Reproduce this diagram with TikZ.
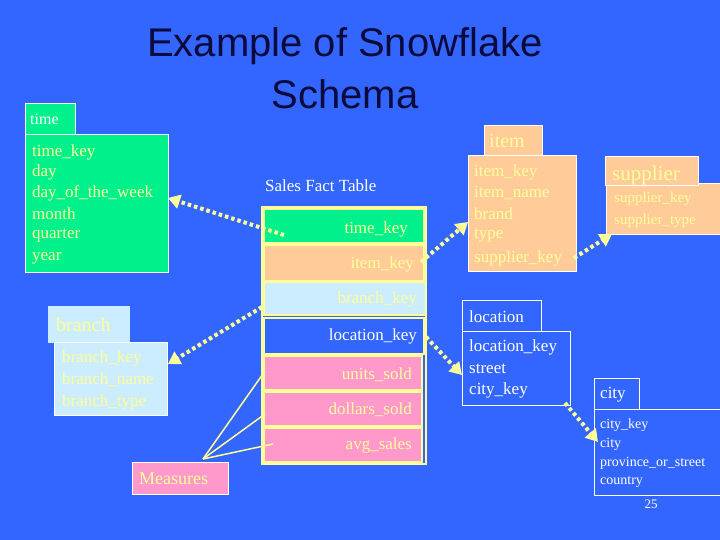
\documentclass[tikz,border=0pt]{standalone}
\usepackage{fontspec}
\setmainfont{Liberation Serif}
\newfontfamily\arial{Liberation Sans}
\usetikzlibrary{arrows.meta}
\definecolor{bg}{RGB}{51,102,255}
\definecolor{grn}{RGB}{0,240,140}
\definecolor{pch}{RGB}{255,204,153}
\definecolor{lbl}{RGB}{204,236,255}
\definecolor{pnk}{RGB}{255,153,204}
\definecolor{crm}{RGB}{255,255,153}
\definecolor{navy}{RGB}{10,10,60}
\tikzset{
 bx/.style={draw=white,line width=0.8pt,inner sep=0pt},
 txt/.style={anchor=west,inner sep=0pt,font=\fontsize{17}{17}\selectfont},
 rowtxt/.style={anchor=east,inner sep=0pt,font=\fontsize{17}{17}\selectfont},
 link/.style={draw=crm,line width=4pt,dash pattern=on 3.5pt off 3pt,-{Triangle[length=12pt,width=14pt]}},
 meas/.style={draw=crm,line width=1.5pt}
}
\begin{document}
\begin{tikzpicture}[x=1pt,y=-1pt]
\fill[bg] (0,0) rectangle (720,540);
\useasboundingbox (0,0) rectangle (720,540);
% title
\node[font=\arial\fontsize{40}{52}\selectfont,align=center,text=navy] (title) at (345,68) {Example of Snowflake\\Schema};
% time
\draw[bx,fill=grn] (25,103) rectangle (75,134);
\node[txt,text=white,font=\fontsize{16}{16}\selectfont] (timelbl) at (30,119) {time};
\draw[bx,fill=grn] (25,134) rectangle (168,272);
\node[txt,text=crm] at (32,152) {time\_key};
\node[txt,text=crm] at (32,172) {day};
\node[txt,text=crm] (dow) at (32,193) {day\_of\_the\_week};
\node[txt,text=crm] at (32,214) {month};
\node[txt,text=crm] at (32,236) {quarter};
\node[txt,text=crm] at (32,258) {year};
\coordinate (timeE) at (168,198);
% sales fact
\node[txt,text=white] (sft) at (265,186) {Sales Fact Table};
\draw[draw=crm,line width=1.2pt] (262,207) rectangle (426,464);
\draw[fill=grn,draw=crm,line width=1.2pt] (264,209) rectangle (424,243);
\draw[fill=pch,draw=crm,line width=1.2pt] (264,245) rectangle (424,281);
\draw[fill=lbl,draw=crm,line width=1.2pt] (264,282) rectangle (426,315);
\draw[fill=bg,draw=crm,line width=1.2pt] (264,318) rectangle (424,354);
\draw[fill=pnk,draw=crm,line width=1.2pt] (264,356) rectangle (422,390);
\draw[fill=pnk,draw=crm,line width=1.2pt] (264,392) rectangle (422,426);
\draw[fill=pnk,draw=crm,line width=1.2pt] (264,428) rectangle (422,462);
\node[rowtxt,text=crm] (r1) at (408,229) {time\_key};
\node[rowtxt,text=crm] (r2) at (414,264) {item\_key};
\node[rowtxt,text=crm] (r3) at (417,299) {branch\_key};
\node[rowtxt,text=white] (r4) at (417,336) {location\_key};
\node[rowtxt,text=crm] (r5) at (412,375) {units\_sold};
\node[rowtxt,text=crm] (r6) at (412,410) {dollars\_sold};
\node[rowtxt,text=crm] (r7) at (412,445) {avg\_sales};
\coordinate (f1) at (284,235);
\coordinate (f2) at (421,262);
\coordinate (f3) at (262,307);
\coordinate (f4) at (426,337);
\coordinate (m1) at (265,371);
\coordinate (m2) at (265,414);
\coordinate (m3) at (273,444);
% item
\draw[bx,fill=pch] (484,125) rectangle (542,155);
\node[txt,text=crm,font=\fontsize{20}{20}\selectfont] at (489,141) {item};
\draw[bx,fill=pch] (468,155) rectangle (576,271);
\node[txt,text=crm] at (474,172) {item\_key};
\node[txt,text=crm] at (474,193) {item\_name};
\node[txt,text=crm] at (474,214) {brand};
\node[txt,text=crm] at (474,236) {type};
\node[txt,text=crm] at (474,258) {supplier\_key};
\coordinate (itemW) at (468,222);
\coordinate (itemS) at (574,258);
% supplier
\draw[bx,fill=pch] (606,183) rectangle (722,234);
\draw[bx,fill=pch] (605,156) rectangle (698,185);
\node[txt,text=crm,font=\fontsize{21}{21}\selectfont] at (612,175) {supplier};
\node[txt,text=crm,font=\fontsize{15}{15}\selectfont] at (614,199) {supplier\_key};
\node[txt,text=crm,font=\fontsize{15}{15}\selectfont] at (614,221) {supplier\_type};
\coordinate (supW) at (612,234);
% location
\draw[bx] (462,300) rectangle (541,331);
\node[txt,text=white] at (469,317) {location};
\draw[bx] (462,331) rectangle (570,405);
\node[txt,text=white] at (469,347) {location\_key};
\node[txt,text=white] at (469,369) {street};
\node[txt,text=white] at (469,390) {city\_key};
\coordinate (locW) at (462,375);
\coordinate (locS) at (565,403);
% city
\draw[bx] (594,378) rectangle (639,409);
\node[txt,text=white] at (600,395) {city};
\draw[bx] (594,409) rectangle (722,495);
\node[txt,text=white,font=\fontsize{14}{14}\selectfont] at (600,425) {city\_key};
\node[txt,text=white,font=\fontsize{14}{14}\selectfont] at (600,444) {city};
\node[txt,text=white,font=\fontsize{14}{14}\selectfont] at (600,463) {province\_or\_street};
\node[txt,text=white,font=\fontsize{14}{14}\selectfont] at (600,482) {country};
\coordinate (cityW) at (598,442);
% branch
\draw[bx,fill=lbl,draw=lbl] (48,306) rectangle (129,342);
\node[txt,text=crm,font=\fontsize{20}{20}\selectfont] at (56,325) {branch};
\draw[bx,fill=lbl] (54,342) rectangle (167,415);
\node[txt,text=crm] at (62,358) {branch\_key};
\node[txt,text=crm] at (62,380) {branch\_name};
\node[txt,text=crm] at (62,402) {branch\_type};
\coordinate (brE) at (168,364);
% measures
\draw[bx,fill=pnk] (132,462) rectangle (228,494);
\node[txt,text=crm,font=\fontsize{18}{18}\selectfont] (meas) at (139,479) {Measures};
\coordinate (mtop) at (203,459);
\node[text=white,font=\fontsize{13}{13}\selectfont] (pg) at (651,504) {25};
% connectors
\draw[link] (f1) -- (timeE);
\draw[link] (f2) -- (itemW);
\draw[link] (f3) -- (brE);
\draw[link] (f4) -- (locW);
\draw[link] (itemS) -- (supW);
\draw[link] (locS) -- (cityW);
\draw[meas] (mtop) -- (m1);
\draw[meas] (mtop) -- (m2);
\draw[meas] (mtop) -- (m3);
\end{tikzpicture}
\end{document}
